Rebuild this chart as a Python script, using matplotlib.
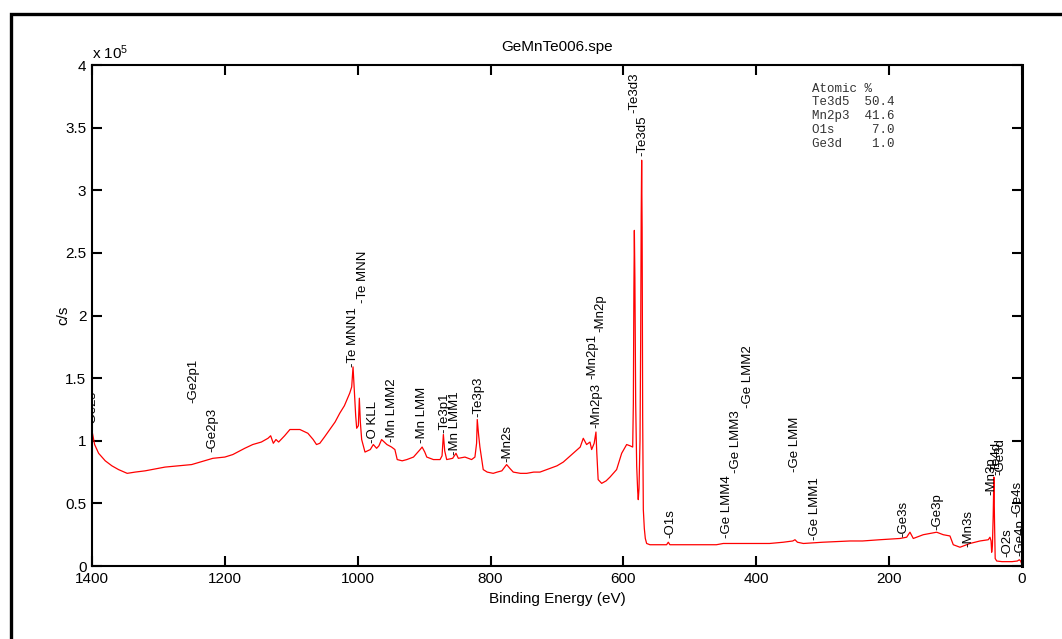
import matplotlib
matplotlib.use("Agg")
import matplotlib.pyplot as plt
from matplotlib.patches import Rectangle
from matplotlib.ticker import FuncFormatter

plt.rcParams["font.family"] = ["Liberation Sans", "DejaVu Sans"]
plt.rcParams["mathtext.default"] = "regular"

# survey spectrum, binding energy (eV) vs counts (x 1e5 c/s)
be_high = [1400, 1396, 1390, 1380, 1370, 1360, 1347, 1335, 1320, 1300,
           1290, 1270, 1250, 1237, 1218, 1200, 1188, 1170, 1158, 1145,
           1135, 1131, 1127, 1123, 1119, 1110, 1102, 1087, 1075, 1067,
           1062, 1057, 1050, 1042, 1034, 1027]
cps_high = [1.08, 0.97, 0.90, 0.84, 0.80, 0.77, 0.74, 0.75, 0.76, 0.78,
            0.79, 0.80, 0.81, 0.83, 0.86, 0.87, 0.89, 0.94, 0.97, 0.99,
            1.02, 1.04, 0.98, 1.01, 0.99, 1.04, 1.09, 1.09, 1.06, 1.01,
            0.97, 0.98, 1.03, 1.09, 1.15, 1.22]

be_mid = [1020, 1016, 1012, 1009, 1007, 1005, 1003, 1001.5, 999, 997.5,
          996, 994, 991, 989, 985, 981, 976.5, 971.5, 968, 964,
          960, 956, 949, 944, 940.5, 933, 926, 916, 906, 903,
          899, 896, 886, 876, 873, 871, 869, 866, 857, 852,
          848.5, 838.5, 828.5, 823.5, 821, 820, 818, 816, 811, 805,
          796, 790, 783, 775.8, 771, 765.8, 755, 745.6, 735, 725.6,
          710.5, 700, 690.5, 675.5, 665, 660.4, 655.4, 650.3, 647.8, 644,
          641.3, 640, 638]
cps_mid = [1.28, 1.33, 1.38, 1.43, 1.59, 1.40, 1.20, 1.10, 1.12, 1.34,
           1.15, 1.01, 0.95, 0.91, 0.92, 0.93, 0.97, 0.94, 0.96, 1.01,
           0.99, 0.97, 0.95, 0.93, 0.85, 0.84, 0.85, 0.87, 0.93, 0.95,
           0.91, 0.87, 0.85, 0.85, 0.88, 1.05, 0.92, 0.85, 0.86, 0.90,
           0.86, 0.87, 0.85, 0.87, 0.98, 1.17, 1.05, 0.95, 0.77, 0.75,
           0.74, 0.75, 0.76, 0.81, 0.78, 0.75, 0.74, 0.74, 0.75, 0.75,
           0.78, 0.80, 0.83, 0.90, 0.95, 1.02, 0.97, 0.99, 0.93, 0.98,
           1.07, 0.90, 0.69]

be_te3d = [632.7, 626, 620.2, 610.2, 602.6, 595.1, 590, 586, 585, 584.2,
           583.5, 582.7, 581.5, 580, 578.5, 577.6, 576.5, 575, 574, 573.2,
           572.5, 571.8, 571, 570, 568.5, 567, 565]
cps_te3d = [0.66, 0.68, 0.71, 0.77, 0.90, 0.97, 0.96, 0.95, 1.30, 2.20,
            2.68, 2.30, 1.30, 0.80, 0.60, 0.53, 0.62, 1.00, 1.80, 2.80,
            3.24, 2.70, 1.20, 0.45, 0.30, 0.22, 0.18]

be_low = [560, 545, 535, 532.4, 530, 525, 500, 484.7, 460, 449.7,
          430, 409.5, 380, 359.3, 345, 341.7, 338, 329, 300, 259,
          240, 213.8, 183.7, 173.6, 168.6, 163.6, 148.6, 128.4, 118.5, 108.4,
          105.5, 103.4, 93.3, 78.3, 63.2, 50.7, 48.2, 46.5, 45.6, 44.5,
          43.3, 42.3, 41.3, 40.3, 38, 30, 15, 7, 4, 2, 0.5]
cps_low = [0.17, 0.17, 0.17, 0.19, 0.17, 0.17, 0.17, 0.17, 0.17, 0.18,
           0.18, 0.18, 0.18, 0.19, 0.20, 0.21, 0.19, 0.18, 0.19, 0.20,
           0.20, 0.21, 0.22, 0.23, 0.27, 0.22, 0.25, 0.27, 0.25, 0.24,
           0.20, 0.17, 0.15, 0.18, 0.20, 0.21, 0.23, 0.20, 0.11, 0.16,
           0.40, 0.71, 0.35, 0.06, 0.04, 0.035, 0.035, 0.04, 0.05, 0.04, 0.02]

# peak markers: name, position (eV), height where the text starts
peak_names = ["-Ge2s", "-Ge2p1", "-Ge2p3", "-Te MNN1", "-Te MNN", "-O KLL",
              "-Mn LMM2", "-Mn LMM", "-Te3p1", "-Mn LMM1", "-Te3p3", "-Mn2s",
              "-Mn2p3", "-Mn2p1", "-Mn2p", "-Te3d5", "-Te3d3", "-O1s",
              "-Ge LMM4", "-Ge LMM3", "-Ge LMM2", "-Ge LMM", "-Ge LMM1",
              "-Ge3s", "-Ge3p", "-Mn3s", "-Mn3p", "-Te4d", "-Ge3d",
              "-O2s", "-Ge4s", "-Ge4p"]
peak_be = [1399, 1248, 1218, 1007, 992, 977,
           948, 903, 870, 854, 819, 775,
           640, 647, 634, 572, 583, 530,
           444, 430, 412, 342, 312,
           179, 128, 81, 46, 38, 33,
           22.6, 7.5, 3]
peak_y = [1.11, 1.30, 0.91, 1.59, 2.10, 0.98,
          0.99, 0.98, 1.06, 0.89, 1.19, 0.83,
          1.10, 1.49, 1.87, 3.27, 3.62, 0.22,
          0.22, 0.74, 1.26, 0.75, 0.21,
          0.23, 0.29, 0.15, 0.57, 0.73, 0.73,
          0.07, 0.39, 0.08]

quant_names = ["Te3d5", "Mn2p3", "O1s", "Ge3d"]
quant_pct = [50.4, 41.6, 7.0, 1.0]

x_ticks = [1400, 1200, 1000, 800, 600, 400, 200, 0]
y_ticks = [0, 0.5, 1, 1.5, 2, 2.5, 3, 3.5, 4]

be = be_high + be_mid + be_te3d + be_low
cps = cps_high + cps_mid + cps_te3d + cps_low

fig = plt.figure(figsize=(10.62, 6.39), dpi=100)
ax = fig.add_axes([0.0866, 0.1142, 0.8757, 0.7840])

ax.plot(be, cps, color="red", lw=0.9)

ax.set_xlim(1400, 0)
ax.set_ylim(0, 4)
ax.set_xticks(x_ticks)
ax.set_yticks(y_ticks)
ax.yaxis.set_major_formatter(FuncFormatter(lambda v, p: f"{v:g}"))
ax.tick_params(direction="in", length=7, width=1.5, labelsize=11, pad=4,
               top=True, right=True)
for s in ax.spines.values():
    s.set_linewidth(1.5)
ax.spines["right"].set_linewidth(2.2)

ax.set_title("GeMnTe006.spe", fontsize=11, pad=10)
ax.set_xlabel("Binding Energy (eV)", fontsize=11)
ax.set_ylabel("c/s", fontsize=11)
ax.xaxis.set_label_coords(0.5, -0.052)
ax.yaxis.set_label_coords(-0.023, 0.5)
ax.text(0, 1.006, "x 10$^{5}$", transform=ax.transAxes, fontsize=11,
        ha="left", va="bottom")

for name, x, y in zip(peak_names, peak_be, peak_y):
    ax.text(x, y, name, rotation=90, ha="center", va="bottom",
            fontsize=9.5, clip_on=True)

lines = ["Atomic %"] + [f"{n:<6}{v:>5.1f}" for n, v in zip(quant_names, quant_pct)]
ax.text(0.774, 0.965, "\n".join(lines), transform=ax.transAxes,
        family=["Liberation Mono", "DejaVu Sans Mono"], fontsize=9,
        color="#333333", ha="left", va="top", linespacing=1.2)

# outer frame around the whole picture (runs off the right/bottom edge)
fig.patches.append(Rectangle((0.0099, -0.1), 1.2, 1.0786, transform=fig.transFigure,
                             fill=False, edgecolor="black", lw=2.4, clip_on=False))

fig.savefig("out.png", dpi=100)
